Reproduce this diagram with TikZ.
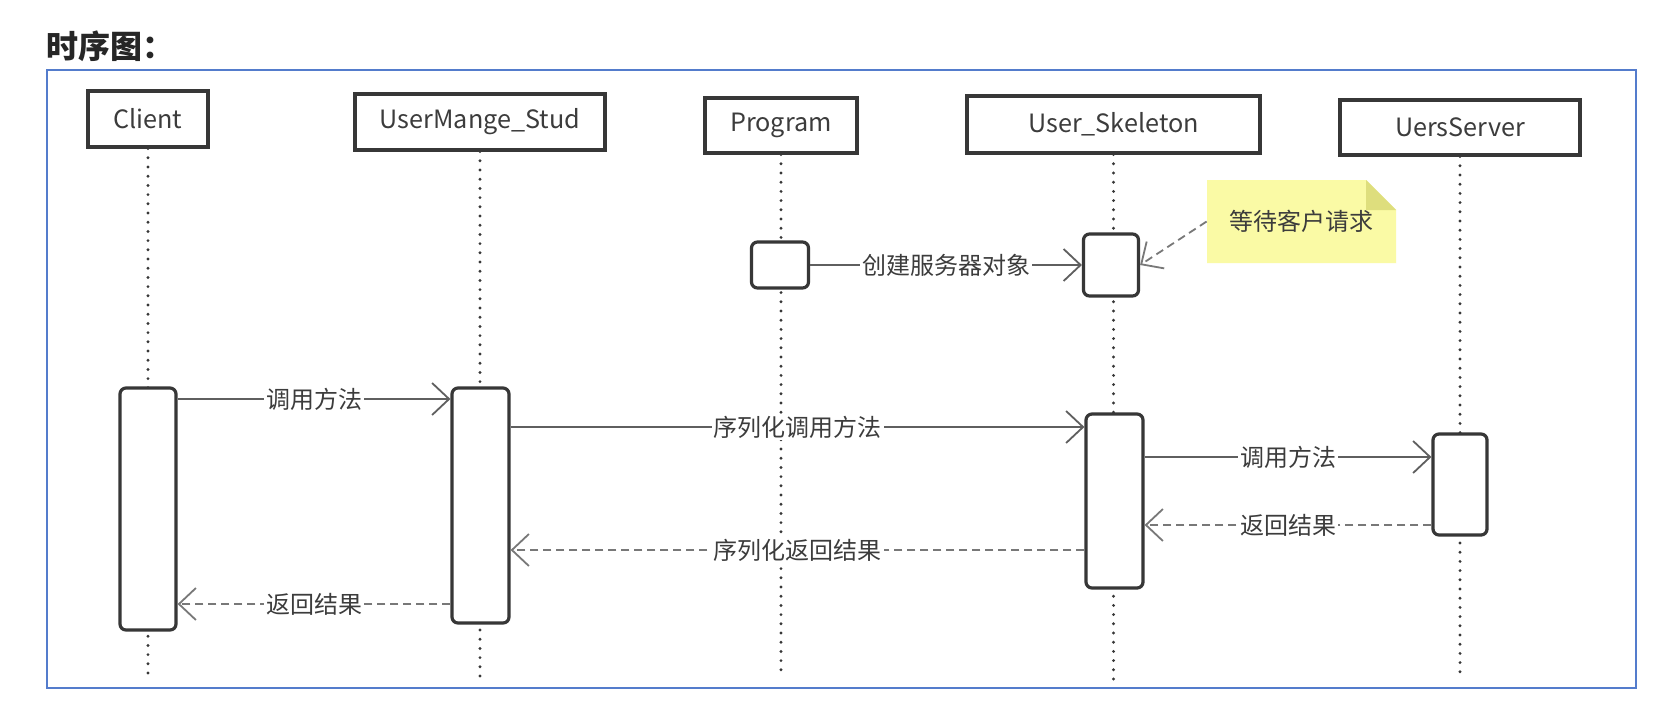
\documentclass[tikz,border=0pt]{standalone}
\usepackage{fontspec}
\setmainfont{Noto Sans CJK SC}
\usetikzlibrary{arrows.meta}
\definecolor{frameblue}{RGB}{84,124,204}
\definecolor{boxline}{RGB}{55,55,55}
\definecolor{msgline}{RGB}{95,95,95}
\definecolor{retline}{RGB}{120,120,120}
\definecolor{txt}{RGB}{60,60,60}
\definecolor{noteyellow}{RGB}{250,250,165}
\definecolor{notefold}{RGB}{222,222,125}
\begin{document}
\begin{tikzpicture}[x=0.5pt,y=-0.5pt,
  head/.style={draw=boxline, line width=1.6pt, fill=white, minimum height=28pt, inner sep=0pt, text=txt, font=\fontsize{12.6}{15}\selectfont},
  act/.style={draw=boxline, line width=1.6pt, fill=white, rounded corners=3pt, inner sep=0pt},
  life/.style={boxline, line width=1.6pt, dash pattern=on 0pt off 4.6pt, line cap=round},
  msg/.style={msgline, line width=0.9pt, -{Straight Barb[length=8.5pt,width=16pt,line width=0.9pt]}},
  ret/.style={msg, retline, dash pattern=on 4pt off 2.5pt},
  lbl/.style={fill=white, inner sep=1pt, text=txt, font=\fontsize{12}{14}\selectfont}
]
\useasboundingbox (0,0) rectangle (1679,703);
\fill[white] (0,0) rectangle (1679,703);

% title
\node[anchor=west, inner sep=0pt, text=black!85, font=\fontsize{16}{19}\selectfont\bfseries] (title) at (46,46) {时序图：};

% frame
\draw[frameblue, line width=1.2pt] (47,70) rectangle (1636,688);

% lifeline heads
\node[head, minimum width=60pt] (client) at (148,119) {Client};
\node[head, minimum width=125pt] (um) at (480,122) {UserMange\_Stud};
\node[head, minimum width=76pt, minimum height=27.5pt] (prog) at (781,125.5) {Program};
\node[head, minimum width=146.5pt, minimum height=28.5pt] (skel) at (1113.5,124.5) {User\_Skeleton};
\node[head, minimum width=120pt, minimum height=27.5pt] (srv) at (1460,127.5) {UersServer};

% lifeline ends
\coordinate (cEnd) at (148,680);
\coordinate (uEnd) at (480,680);
\coordinate (pEnd) at (781,678);
\coordinate (sEnd) at (1113.5,680);
\coordinate (vEnd) at (1460,678);

\draw[life] (client.south) -- (cEnd);
\draw[life] (um.south) -- (uEnd);
\draw[life] (prog.south) -- (pEnd);
\draw[life] (skel.south) -- (sEnd);
\draw[life] (srv.south) -- (vEnd);

% activations
\node[act, minimum width=28.5pt, minimum height=23pt] (pa) at (780,265) {};
\node[act, minimum width=27.5pt, minimum height=31pt] (sa1) at (1111,265) {};
\node[act, minimum width=28pt, minimum height=121pt] (ca) at (148,509) {};
\node[act, minimum width=28.5pt, minimum height=117.5pt] (ua) at (480.5,505.5) {};
\node[act, minimum width=28.5pt, minimum height=87pt] (sa2) at (1114.5,501) {};
\node[act, minimum width=27pt, minimum height=50.5pt] (va) at (1460,484.5) {};

% message levels
\coordinate (y1) at (0,399);
\coordinate (y2) at (0,427);
\coordinate (y3) at (0,457);
\coordinate (y4) at (0,525);
\coordinate (y5) at (0,550);
\coordinate (y6) at (0,604);

\draw[msg] (pa.east) -- (sa1.west) node[lbl, midway] {创建服务器对象};
\draw[msg] (ca.east |- y1) -- (ua.west |- y1) node[lbl, midway] {调用方法};
\draw[msg] (ua.east |- y2) -- (sa2.west |- y2) node[lbl, midway] {序列化调用方法};
\draw[msg] (sa2.east |- y3) -- (va.west |- y3) node[lbl, midway] {调用方法};
\draw[ret] (va.west |- y4) -- (sa2.east |- y4) node[lbl, midway] {返回结果};
\draw[ret] (sa2.west |- y5) -- (ua.east |- y5) node[lbl, midway] {序列化返回结果};
\draw[ret] (ua.west |- y6) -- (ca.east |- y6) node[lbl, midway] {返回结果};

% note
\fill[noteyellow] (1207,180) -- (1366,180) -- (1396,210) -- (1396,263) -- (1207,263) -- cycle;
\fill[notefold] (1366,180) -- (1396,210) -- (1366,210) -- cycle;
\node[inner sep=0pt, minimum width=94.5pt, minimum height=41.5pt, text=txt, font=\fontsize{12}{14}\selectfont] (note) at (1301.5,221.5) {等待客户请求};
\draw[ret] (note.west) -- (sa1.east);
\end{tikzpicture}
\end{document}
